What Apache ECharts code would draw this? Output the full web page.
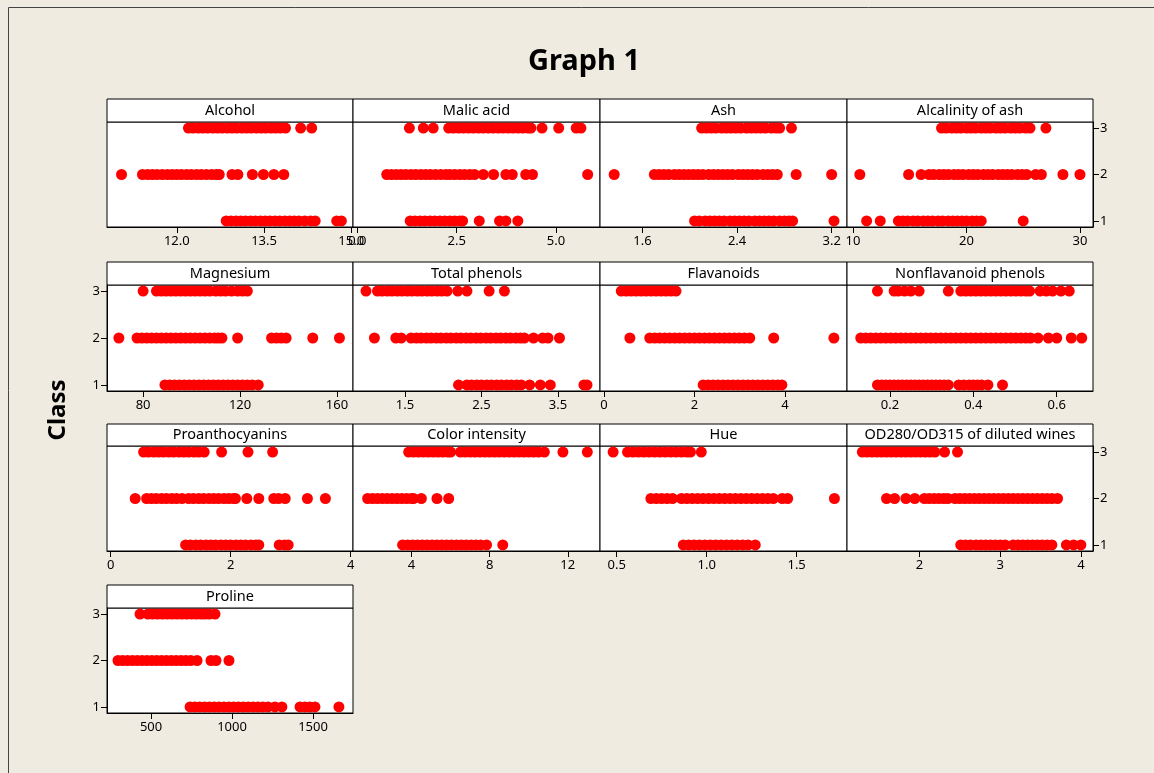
<!DOCTYPE html>
<html>
<head>
<meta charset="utf-8">
<title>Graph 1</title>
<script src="https://cdn.jsdelivr.net/npm/echarts@6/dist/echarts.min.js"></script>
<style>
  html, body { margin: 0; padding: 0; background: #efebe0; }
  #main { width: 1154px; height: 773px; }
</style>
</head>
<body>
<div id="main"></div>
<script>
  // each variable: [class 1 values, class 2 values, class 3 values]
  const alcohol = [
    [12.85, 12.93, 13.02, 13.1, 13.18, 13.27, 13.35, 13.44, 13.52, 13.6, 13.69, 13.77, 13.86, 13.94, 14.02, 14.1, 14.2, 14.3, 14.38, 14.75, 14.83],
    [11.05, 11.41, 11.5, 11.58, 11.66, 11.75, 11.84, 11.92, 12.0, 12.08, 12.17, 12.25, 12.34, 12.42, 12.51, 12.6, 12.68, 12.73, 12.95, 13.05, 13.3, 13.49, 13.67, 13.84],
    [12.2, 12.28, 12.37, 12.45, 12.53, 12.62, 12.7, 12.78, 12.87, 12.95, 13.03, 13.12, 13.2, 13.28, 13.37, 13.45, 13.53, 13.62, 13.7, 13.78, 13.87, 14.13, 14.32]
  ];
  const malicAcid = [
    [1.33, 1.45, 1.58, 1.7, 1.83, 1.95, 2.08, 2.2, 2.33, 2.45, 2.58, 2.65, 3.07, 3.58, 3.74, 4.04],
    [0.74, 0.86, 0.98, 1.1, 1.22, 1.35, 1.47, 1.6, 1.72, 1.84, 1.97, 2.1, 2.23, 2.33, 2.45, 2.58, 2.7, 2.83, 2.95, 3.17, 3.43, 3.74, 3.9, 4.24, 4.41, 5.8],
    [1.31, 1.66, 1.91, 2.3, 2.42, 2.55, 2.67, 2.8, 2.92, 3.05, 3.17, 3.3, 3.42, 3.55, 3.67, 3.8, 3.92, 4.05, 4.17, 4.3, 4.37, 4.65, 5.07, 5.51, 5.63]
  ];
  const ash = [
    [2.04, 2.08, 2.13, 2.17, 2.21, 2.25, 2.29, 2.34, 2.38, 2.42, 2.46, 2.5, 2.55, 2.59, 2.63, 2.67, 2.71, 2.76, 2.8, 2.84, 2.87, 3.22],
    [1.36, 1.7, 1.74, 1.78, 1.82, 1.87, 1.91, 1.95, 1.99, 2.03, 2.07, 2.11, 2.16, 2.2, 2.24, 2.28, 2.32, 2.36, 2.41, 2.45, 2.49, 2.53, 2.57, 2.62, 2.66, 2.7, 2.74, 2.9, 3.2],
    [2.1, 2.14, 2.18, 2.22, 2.27, 2.31, 2.35, 2.39, 2.43, 2.48, 2.52, 2.56, 2.6, 2.64, 2.69, 2.73, 2.76, 2.86]
  ];
  const alcalinity = [
    [11.2, 12.4, 14.0, 14.4, 14.8, 15.3, 15.7, 16.2, 16.6, 17.0, 17.5, 17.9, 18.4, 18.8, 19.2, 19.6, 20.0, 20.5, 20.9, 21.3, 25.0],
    [10.6, 14.9, 16.0, 16.7, 17.1, 17.6, 18.0, 18.4, 18.9, 19.3, 19.7, 20.2, 20.6, 21.0, 21.5, 21.9, 22.3, 22.8, 23.2, 23.6, 24.0, 24.5, 24.9, 25.3, 26.1, 26.6, 28.5, 30.0],
    [17.8, 18.2, 18.7, 19.1, 19.5, 20.0, 20.4, 20.8, 21.3, 21.7, 22.1, 22.6, 23.0, 23.4, 23.9, 24.3, 24.7, 25.2, 25.6, 27.0]
  ];
  const magnesium = [
    [89, 91, 93, 95, 97, 99, 101, 103, 105, 107, 109, 111, 113, 115, 117, 119, 121, 123, 125, 127.5],
    [70, 77.5, 79.5, 81.5, 83.5, 85.5, 87.5, 89.5, 91.5, 93.5, 95.5, 97.5, 99.5, 101.5, 103.5, 105.5, 107.5, 109.5, 111, 112.5, 119, 133, 135, 137, 139, 150, 161],
    [80, 85.5, 87.5, 89.5, 91.5, 93.5, 95.5, 97.5, 99.5, 101.5, 103.5, 105.5, 107.5, 110, 112, 114, 116.5, 119, 121, 123]
  ];
  const totalPhenols = [
    [2.2, 2.31, 2.37, 2.44, 2.5, 2.57, 2.63, 2.7, 2.76, 2.83, 2.89, 2.96, 3.02, 3.13, 3.27, 3.4, 3.84, 3.88],
    [1.1, 1.38, 1.45, 1.58, 1.65, 1.71, 1.78, 1.84, 1.91, 1.97, 2.04, 2.1, 2.17, 2.23, 2.3, 2.36, 2.43, 2.49, 2.56, 2.62, 2.69, 2.75, 2.82, 2.88, 2.95, 3.01, 3.06, 3.18, 3.3, 3.37, 3.52],
    [0.99, 1.14, 1.2, 1.27, 1.33, 1.4, 1.46, 1.53, 1.59, 1.66, 1.72, 1.79, 1.85, 1.92, 1.98, 2.05, 2.19, 2.31, 2.6, 2.8]
  ];
  const flavanoids = [
    [2.19, 2.3, 2.41, 2.52, 2.63, 2.74, 2.85, 2.96, 3.07, 3.18, 3.29, 3.4, 3.51, 3.62, 3.73, 3.84, 3.93],
    [0.57, 1.01, 1.12, 1.23, 1.34, 1.45, 1.56, 1.67, 1.78, 1.89, 2.0, 2.11, 2.22, 2.33, 2.44, 2.55, 2.66, 2.77, 2.88, 2.99, 3.1, 3.22, 3.75, 5.08],
    [0.38, 0.49, 0.6, 0.71, 0.82, 0.93, 1.04, 1.15, 1.26, 1.37, 1.48, 1.59]
  ];
  const nonflavanoid = [
    [0.17, 0.18, 0.19, 0.2, 0.21, 0.22, 0.23, 0.24, 0.25, 0.26, 0.27, 0.28, 0.29, 0.3, 0.31, 0.32, 0.33, 0.34, 0.365, 0.377, 0.39, 0.4, 0.41, 0.42, 0.435, 0.47],
    [0.13, 0.142, 0.154, 0.166, 0.178, 0.19, 0.202, 0.214, 0.226, 0.238, 0.25, 0.262, 0.274, 0.286, 0.298, 0.31, 0.322, 0.334, 0.346, 0.358, 0.37, 0.382, 0.394, 0.406, 0.418, 0.43, 0.442, 0.454, 0.466, 0.478, 0.49, 0.502, 0.514, 0.526, 0.537, 0.555, 0.58, 0.6, 0.635, 0.66],
    [0.17, 0.21, 0.22, 0.235, 0.25, 0.27, 0.34, 0.37, 0.382, 0.394, 0.406, 0.418, 0.43, 0.442, 0.454, 0.466, 0.478, 0.49, 0.502, 0.514, 0.526, 0.535, 0.56, 0.575, 0.59, 0.61, 0.63]
  ];
  const proanthocyanins = [
    [1.25, 1.33, 1.42, 1.5, 1.59, 1.67, 1.75, 1.84, 1.92, 2.0, 2.09, 2.17, 2.25, 2.34, 2.42, 2.47, 2.81, 2.9, 2.96],
    [0.41, 0.6, 0.68, 0.76, 0.85, 0.93, 1.02, 1.1, 1.19, 1.3, 1.38, 1.47, 1.55, 1.64, 1.72, 1.8, 1.89, 1.97, 2.05, 2.08, 2.27, 2.47, 2.72, 2.8, 2.91, 3.28, 3.58],
    [0.55, 0.63, 0.72, 0.8, 0.88, 0.97, 1.05, 1.14, 1.22, 1.3, 1.39, 1.47, 1.56, 1.85, 2.29, 2.7]
  ];
  const colorIntensity = [
    [3.54, 3.8, 4.05, 4.3, 4.55, 4.8, 5.05, 5.3, 5.55, 5.8, 6.05, 6.3, 6.55, 6.8, 7.05, 7.3, 7.54, 7.84, 8.67],
    [1.75, 2.0, 2.25, 2.5, 2.75, 3.0, 3.25, 3.5, 3.75, 4.0, 4.1, 4.5, 5.3, 5.9],
    [3.85, 4.1, 4.35, 4.6, 4.85, 5.1, 5.35, 5.6, 5.85, 6.0, 6.5, 6.75, 7.0, 7.25, 7.5, 7.75, 8.0, 8.25, 8.5, 8.75, 9.0, 9.25, 9.5, 9.75, 10.0, 10.25, 10.5, 10.8, 11.75, 13.0]
  ];
  const hue = [
    [0.87, 0.9, 0.93, 0.96, 0.99, 1.02, 1.05, 1.08, 1.11, 1.14, 1.17, 1.2, 1.23, 1.27],
    [0.69, 0.72, 0.75, 0.78, 0.81, 0.86, 0.89, 0.92, 0.95, 0.98, 1.01, 1.04, 1.07, 1.1, 1.13, 1.16, 1.19, 1.22, 1.25, 1.28, 1.31, 1.34, 1.37, 1.42, 1.45, 1.71],
    [0.48, 0.56, 0.59, 0.62, 0.65, 0.68, 0.71, 0.74, 0.77, 0.8, 0.83, 0.86, 0.89, 0.91, 0.97]
  ];
  const od280 = [
    [2.51, 2.57, 2.63, 2.7, 2.76, 2.82, 2.88, 2.94, 3.0, 3.06, 3.16, 3.22, 3.28, 3.34, 3.4, 3.46, 3.52, 3.58, 3.64, 3.82, 3.91, 4.0],
    [1.59, 1.69, 1.83, 1.94, 2.06, 2.12, 2.18, 2.24, 2.3, 2.35, 2.44, 2.5, 2.56, 2.62, 2.68, 2.74, 2.8, 2.86, 2.92, 2.98, 3.04, 3.1, 3.16, 3.22, 3.28, 3.34, 3.4, 3.46, 3.52, 3.58, 3.64, 3.71],
    [1.29, 1.35, 1.41, 1.47, 1.53, 1.59, 1.65, 1.71, 1.77, 1.83, 1.89, 1.95, 2.01, 2.07, 2.13, 2.19, 2.31, 2.47]
  ];
  const proline = [
    [741, 770, 800, 830, 860, 890, 920, 950, 980, 1010, 1040, 1070, 1100, 1130, 1160, 1190, 1222, 1265, 1308, 1420, 1450, 1480, 1512, 1660],
    [296, 325, 355, 385, 415, 445, 475, 505, 535, 565, 595, 625, 655, 685, 715, 745, 784, 870, 901, 981],
    [432, 481, 510, 540, 570, 600, 630, 660, 690, 720, 750, 780, 810, 833, 860, 895]
  ];

  const classTicks = [1, 2, 3];

  // panel title, data, x range, x tick values, decimals on tick labels
  const panels = [
    { name: 'Alcohol', data: alcohol, min: 10.8, max: 15.03, ticks: [12, 13.5, 15], dp: 1 },
    { name: 'Malic acid', data: malicAcid, min: -0.11, max: 6.11, ticks: [0, 2.5, 5], dp: 1 },
    { name: 'Ash', data: ash, min: 1.24, max: 3.33, ticks: [1.6, 2.4, 3.2], dp: 1 },
    { name: 'Alcalinity of ash', data: alcalinity, min: 9.47, max: 31.15, ticks: [10, 20, 30], dp: 0 },
    { name: 'Magnesium', data: magnesium, min: 65.1, max: 166.6, ticks: [80, 120, 160], dp: 0 },
    { name: 'Total phenols', data: totalPhenols, min: 0.82, max: 4.05, ticks: [1.5, 2.5, 3.5], dp: 1 },
    { name: 'Flavanoids', data: flavanoids, min: -0.09, max: 5.37, ticks: [0, 2, 4], dp: 0 },
    { name: 'Nonflavanoid phenols', data: nonflavanoid, min: 0.097, max: 0.687, ticks: [0.2, 0.4, 0.6], dp: 1 },
    { name: 'Proanthocyanins', data: proanthocyanins, min: -0.06, max: 4.04, ticks: [0, 2, 4], dp: 0 },
    { name: 'Color intensity', data: colorIntensity, min: 1.0, max: 13.65, ticks: [4, 8, 12], dp: 0 },
    { name: 'Hue', data: hue, min: 0.407, max: 1.78, ticks: [0.5, 1.0, 1.5], dp: 1 },
    { name: 'OD280/OD315 of diluted wines', data: od280, min: 1.1, max: 4.15, ticks: [2, 3, 4], dp: 0 },
    { name: 'Proline', data: proline, min: 228, max: 1747, ticks: [500, 1000, 1500], dp: 0 }
  ];

  // layout of the panel matrix
  const colX = [107, 353, 600, 847, 1093];
  const headTop = [99, 262, 424, 585];
  const plotTop = [122, 285, 446, 608];
  const plotBottom = [227, 391, 551, 713];
  const font = '"Noto Sans", "DejaVu Sans", sans-serif';

  let grids = [], xAxes = [], yAxes = [], series = [];
  let graphics = [
    { type: 'rect', shape: { x: 8.5, y: 7.5, width: 1300, height: 900 }, style: { fill: 'none', stroke: '#444', lineWidth: 1 } },
    { type: 'text', x: 58, y: 410, rotation: Math.PI / 2,
      style: { text: 'Class', font: 'bold 24px ' + font, fill: '#000', textAlign: 'center', textVerticalAlign: 'middle' } }
  ];

  panels.forEach((p, i) => {
    let r = Math.floor(i / 4), c = i % 4;
    let left = colX[c], width = colX[c + 1] - colX[c];
    // y labels alternate: right side on rows 1 and 3, left side on rows 2 and 4
    let side = null;
    if (r % 2 === 0 && c === 3) side = 'right';
    if (r % 2 === 1 && c === 0) side = 'left';

    grids.push({
      left: left, top: plotTop[r], width: width, height: plotBottom[r] - plotTop[r],
      show: true, backgroundColor: '#fff', borderColor: '#000', borderWidth: 1
    });
    xAxes.push({
      gridIndex: i, type: 'value', min: p.min, max: p.max,
      axisLine: { show: true, onZero: false, lineStyle: { color: '#000', width: 1 } },
      axisTick: { show: true, length: 6, customValues: p.ticks, lineStyle: { color: '#000' } },
      axisLabel: { customValues: p.ticks, formatter: v => v.toFixed(p.dp), color: '#000', fontSize: 13, fontFamily: font, margin: 8 },
      splitLine: { show: false }
    });
    yAxes.push({
      gridIndex: i, type: 'value', min: 0.87, max: 3.13, position: side || 'left',
      axisLine: { show: !!side, lineStyle: { color: '#000', width: 1 } },
      axisTick: { show: !!side, length: 6, customValues: classTicks, lineStyle: { color: '#000' } },
      axisLabel: { show: !!side, customValues: classTicks, color: '#000', fontSize: 13, fontFamily: font, margin: 7 },
      splitLine: { show: false }
    });
    series.push({
      type: 'scatter', xAxisIndex: i, yAxisIndex: i,
      symbolSize: 11, itemStyle: { color: '#ff0000', opacity: 1 },
      data: p.data.flatMap((vals, k) => vals.map(v => [v, k + 1]))
    });
    // header strip with the variable name
    graphics.push({
      type: 'rect', shape: { x: left, y: headTop[r], width: width, height: plotTop[r] - headTop[r] },
      style: { fill: '#fff', stroke: '#000', lineWidth: 1 }
    });
    graphics.push({
      type: 'text', x: left + width / 2, y: (headTop[r] + plotTop[r]) / 2,
      style: { text: p.name, font: '14.5px ' + font, fill: '#000', textAlign: 'center', textVerticalAlign: 'middle' }
    });
  });

  let myChart = echarts.init(document.getElementById('main'));
  let option = {
    backgroundColor: '#efebe0',
    animation: false,
    title: {
      text: 'Graph 1', left: 579, top: 42, textAlign: 'center',
      textStyle: { fontSize: 29, fontWeight: 'bold', fontFamily: font, color: '#000' }
    },
    grid: grids,
    xAxis: xAxes,
    yAxis: yAxes,
    series: series,
    graphic: graphics
  };
  option && myChart.setOption(option);
</script>
</body>
</html>
